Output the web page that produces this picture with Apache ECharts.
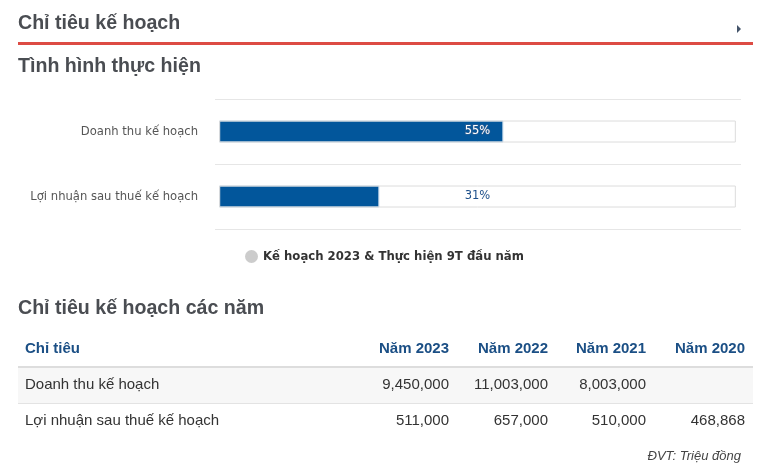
<!DOCTYPE html>
<html>
<head>
<meta charset="utf-8">
<script src="https://cdn.jsdelivr.net/npm/echarts@6/dist/echarts.min.js"></script>
<style>
  html, body { margin: 0; padding: 0; background: #fff; }
  #main { width: 761px; height: 471px; }
</style>
</head>
<body>
<div id="main"></div>
<script>
// tình hình thực hiện (%)
const categories = ['Doanh thu kế hoạch', 'Lợi nhuận sau thuế kế hoạch']
const progress = [55, 31]
const legendName = 'Kế hoạch 2023 & Thực hiện 9T đầu năm'

// bảng chỉ tiêu các năm
const years = ['Năm 2023', 'Năm 2022', 'Năm 2021', 'Năm 2020']
const rowNames = ['Doanh thu kế hoạch', 'Lợi nhuận sau thuế kế hoạch']
const revenuePlan = [9450000, 11003000, 8003000, null]
const profitPlan = [511000, 657000, 510000, 468868]

const fmt = v => (v == null ? '' : v.toLocaleString('en-US'))

const myChart = echarts.init(document.getElementById('main'))

const titleFont = 'bold 19.6px "Liberation Sans", Arial'
const cellFont = '15px "Liberation Sans", Arial'
const headFont = 'bold 15px "Liberation Sans", Arial'

// graphic: tiêu đề + bảng
const graphic = [
  { type: 'text', left: 18, top: 14, style: { text: 'Chỉ tiêu kế hoạch', font: titleFont, fill: '#4a4d52' } },
  { type: 'polygon', shape: { points: [[737, 25], [741, 29], [737, 33]] }, style: { fill: '#44546a' } },
  { type: 'rect', shape: { x: 18, y: 42, width: 735, height: 3 }, style: { fill: '#dd4b44' } },
  { type: 'text', left: 18, top: 57, style: { text: 'Tình hình thực hiện', font: titleFont, fill: '#4a4d52' } },
  { type: 'text', left: 18, top: 299, style: { text: 'Chỉ tiêu kế hoạch các năm', font: titleFont, fill: '#4a4d52' } },
  // bảng
  { type: 'rect', shape: { x: 18, y: 368, width: 735, height: 35 }, style: { fill: '#f7f7f7' } },
  { type: 'rect', shape: { x: 18, y: 366, width: 735, height: 2 }, style: { fill: '#dddddd' } },
  { type: 'rect', shape: { x: 18, y: 403, width: 735, height: 1 }, style: { fill: '#e3e3e3' } },
  { type: 'text', x: 25, y: 349, style: { text: 'Chỉ tiêu', font: headFont, fill: '#1b4f85', verticalAlign: 'middle' } }
]
const colRight = [449, 548, 646, 745]
years.forEach((y, i) => {
  graphic.push({ type: 'text', x: colRight[i], y: 349, style: { text: y, font: headFont, fill: '#1b4f85', align: 'right', verticalAlign: 'middle' } })
})
;[revenuePlan, profitPlan].forEach((row, r) => {
  const ty = 385 + r * 36
  graphic.push({ type: 'text', x: 25, y: ty, style: { text: rowNames[r], font: cellFont, fill: '#333', verticalAlign: 'middle' } })
  row.forEach((v, i) => {
    graphic.push({ type: 'text', x: colRight[i], y: ty, style: { text: fmt(v), font: cellFont, fill: '#333', align: 'right', verticalAlign: 'middle' } })
  })
})
graphic.push({ type: 'text', x: 741, y: 456, style: { text: 'ĐVT: Triệu đồng', font: 'italic 13px "Liberation Sans", Arial', fill: '#444', align: 'right', verticalAlign: 'middle' } })

myChart.setOption({
  animation: false,
  textStyle: { fontFamily: 'DejaVu Sans' },
  grid: { left: 215, right: 20, top: 99, height: 130 },
  legend: {
    left: 240,
    top: 245,
    itemWidth: 13,
    itemHeight: 13,
    data: [{ name: legendName, icon: 'circle', itemStyle: { color: '#cccccc', borderWidth: 0 } }],
    textStyle: { fontFamily: 'DejaVu Sans', fontSize: 11.7, fontWeight: 'bold', color: '#333' }
  },
  xAxis: {
    type: 'value',
    min: -0.8,
    max: 101,
    show: false
  },
  yAxis: {
    type: 'category',
    inverse: true,
    data: categories,
    axisLine: { show: false },
    axisTick: { show: false },
    splitLine: { show: true, lineStyle: { color: '#e6e6e6' } },
    axisLabel: { color: '#555', fontSize: 11.6, margin: 17 }
  },
  series: [
    {
      name: legendName,
      type: 'bar',
      barWidth: 22,
      data: progress,
      itemStyle: { color: '#02569b', borderColor: '#b9d1e6', borderWidth: 1 },
      z: 2
    },
    {
      name: 'track',
      type: 'bar',
      barWidth: 22,
      barGap: '-100%',
      data: progress.map(v => ({
        value: 100,
        label: v > 50 ? { color: '#fff', textBorderColor: '#2f5f93', textBorderWidth: 1.5 } : {}
      })),
      itemStyle: { color: 'transparent', borderColor: '#dcdcdc', borderWidth: 1 },
      label: {
        show: true,
        position: 'inside',
        fontSize: 11.5,
        formatter: p => progress[p.dataIndex] + '%',
        color: '#1d4f8a'
      },
      z: 3
    }
  ],
  graphic: graphic
})
</script>
</body>
</html>
